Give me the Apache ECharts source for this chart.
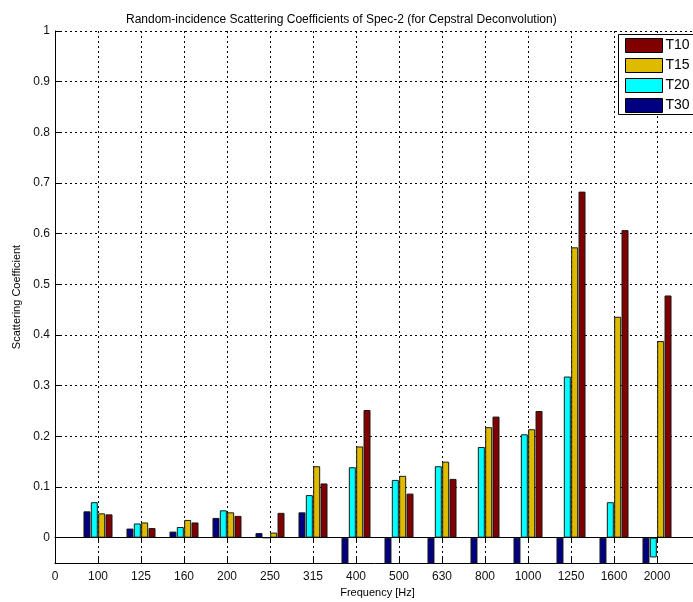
<!DOCTYPE html>
<html>
<head>
<meta charset="utf-8">
<script src="https://cdn.jsdelivr.net/npm/echarts@6/dist/echarts.min.js"></script>
<style>
  html, body { margin: 0; padding: 0; background: #fff; }
  #chart { width: 693px; height: 602px; }
</style>
</head>
<body>
<div id="chart"></div>
<script>
  // tick labels on the x axis, position 0 is the left edge
  var freqLabels = ['0', '100', '125', '160', '200', '250', '315', '400', '500', '630', '800', '1000', '1250', '1600', '2000']
  var yTicks = [0, 0.1, 0.2, 0.3, 0.4, 0.5, 0.6, 0.7, 0.8, 0.9, 1]

  // values per band (100 Hz .. 2000 Hz)
  var t30 = [0.052, 0.018, 0.012, 0.039, 0.009, 0.050, -0.1, -0.1, -0.1, -0.1, -0.1, -0.1, -0.1, -0.1]
  var t20 = [0.070, 0.028, 0.021, 0.054, 0, 0.084, 0.139, 0.114, 0.141, 0.179, 0.204, 0.318, 0.070, -0.039]
  var t15 = [0.048, 0.030, 0.035, 0.050, 0.010, 0.141, 0.180, 0.122, 0.150, 0.218, 0.214, 0.573, 0.436, 0.388]
  var t10 = [0.046, 0.019, 0.030, 0.043, 0.049, 0.107, 0.252, 0.087, 0.116, 0.239, 0.250, 0.683, 0.607, 0.478]

  var font = 'Liberation Sans, Arial, Helvetica, sans-serif'

  function toPoints (arr) {
    return arr.map(function (v, i) { return [i + 1, v] })
  }

  function barSeries (name, arr, color) {
    return {
      name: name,
      type: 'bar',
      data: toPoints(arr),
      barWidth: 7,
      barGap: '5%',
      clip: true,
      itemStyle: {
        color: color,
        borderColor: '#1a1a1a',
        borderWidth: 1
      }
    }
  }

  var myChart = echarts.init(document.getElementById('chart'))

  var series = [
    barSeries('T30', t30, '#000080'),
    barSeries('T20', t20, '#00ffff'),
    barSeries('T15', t15, '#dfbb00'),
    barSeries('T10', t10, '#800000')
  ]
  // zero baseline
  series[0].markLine = {
    silent: true,
    symbol: 'none',
    label: { show: false },
    lineStyle: { color: '#000', width: 1, type: 'solid' },
    data: [{ yAxis: 0 }]
  }

  myChart.setOption({
    animation: false,
    backgroundColor: '#fff',
    title: {
      text: 'Random-incidence Scattering Coefficients of Spec-2 (for Cepstral Deconvolution)',
      left: 121,
      top: 9,
      textStyle: { fontFamily: font, fontSize: 12, fontWeight: 'normal', color: '#000' }
    },
    // legend frame, runs off the right edge like the original
    graphic: [{
      type: 'rect',
      left: 618,
      top: 34,
      z: 3,
      shape: { width: 110, height: 80 },
      style: { fill: '#fff', stroke: '#000', lineWidth: 1 }
    }],
    legend: {
      data: ['T10', 'T15', 'T20', 'T30'],
      orient: 'vertical',
      left: 618,
      top: 34,
      padding: [4, 5, 3, 7],
      itemWidth: 37,
      itemHeight: 14,
      itemGap: 5,
      icon: 'rect',
      z: 4,
      itemStyle: { borderColor: '#000', borderWidth: 1 },
      textStyle: { fontFamily: font, fontSize: 14, color: '#000', padding: [0, 0, 0, -2] }
    },
    grid: {
      left: 55,
      width: 645,
      top: 31,
      bottom: 39,
      outerBoundsMode: 'none'
    },
    xAxis: [{
      type: 'value',
      min: 0,
      max: 15,
      interval: 1,
      name: 'Frequency [Hz]',
      nameLocation: 'middle',
      nameGap: 24,
      nameTextStyle: { fontFamily: font, fontSize: 11, color: '#000' },
      axisLine: { onZero: false, lineStyle: { color: '#000', width: 1 } },
      axisTick: { inside: true, length: 5, lineStyle: { color: '#000' } },
      axisLabel: {
        margin: 8,
        fontFamily: font,
        fontSize: 12,
        color: '#111',
        formatter: function (v) { return freqLabels[v] !== undefined ? freqLabels[v] : '' }
      },
      splitLine: { show: true, lineStyle: { color: '#000', width: 1, type: [2, 3] } }
    }, {
      type: 'value',
      position: 'top',
      min: 0,
      max: 15,
      interval: 1,
      axisLine: { show: true, lineStyle: { color: '#000', width: 1 } },
      axisTick: { show: true, inside: true, length: 5, lineStyle: { color: '#000' } },
      axisLabel: { show: false },
      splitLine: { show: false }
    }],
    yAxis: {
      type: 'value',
      min: -0.05,
      max: 1,
      name: 'Scattering Coefficient',
      nameLocation: 'middle',
      nameGap: 30,
      nameTextStyle: { fontFamily: font, fontSize: 11, color: '#000' },
      axisLine: { show: true, lineStyle: { color: '#000', width: 1 } },
      axisTick: { show: true, inside: true, length: 5, customValues: yTicks, lineStyle: { color: '#000' } },
      axisLabel: {
        margin: 5,
        fontFamily: font,
        fontSize: 12,
        color: '#111',
        customValues: yTicks,
        formatter: function (v) { return String(Math.round(v * 10) / 10) }
      },
      splitLine: { show: true, lineStyle: { color: '#000', width: 1, type: [2, 3] } }
    },
    series: series
  })
</script>
</body>
</html>
